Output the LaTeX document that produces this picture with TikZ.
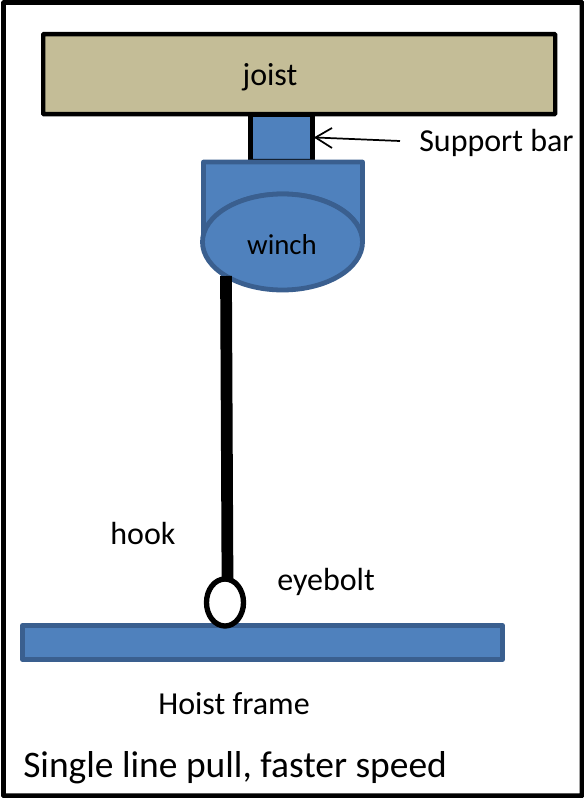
\documentclass[tikz,border=0pt]{standalone}
\usepackage{fontspec}
\setmainfont{Carlito}
\usetikzlibrary{shapes.geometric}
\definecolor{blueA}{HTML}{4F81BD}
\definecolor{blueB}{HTML}{3A5F8F}
\definecolor{joisttan}{HTML}{C4BD97}
\tikzset{
  x=0.75pt,y=-0.75pt,
  blackbox/.style={draw=black,line width=3.2pt,inner sep=0pt,rounded corners=0.5pt},
  bluebox/.style={draw=blueB,fill=blueA,line width=3.6pt,inner sep=0pt,line join=round},
  label/.style={inner sep=0pt,text=black,font=\fontsize{24}{24}\selectfont},
  rope/.style={draw=black,line width=8.8pt},
}
\begin{document}
\begin{tikzpicture}
\useasboundingbox (0,0) rectangle (584,798);
\fill[white] (0,0) rectangle (584,798);
\node[blackbox,line width=3.6pt,anchor=north west,minimum width=434pt,minimum height=595pt] (page) at (1,0) {};
\node[blackbox,line width=3.6pt,fill=blueA,anchor=north west,minimum width=46.5pt,minimum height=35.25pt] (bar) at (248,112) {};
\node[blackbox,fill=joisttan,anchor=north west,minimum width=384pt,minimum height=60pt] (joist) at (41,32) {};
\node[label,anchor=center] at (270,77) {joist};
% winch body
\path[bluebox] (203.5,162) -- (362.5,162) -- (362.5,242) arc[start angle=0,end angle=-180,x radius=79.5,y radius=48] -- cycle;
\node[bluebox,ellipse,minimum width=120pt,minimum height=72pt] (winchface) at (282.5,242) {};
\node[label,font=\fontsize{21.6}{22}\selectfont] (winch) at (282,245) {winch};
% frame and eyebolt
\node[bluebox,anchor=north west,minimum width=360pt,minimum height=25.5pt] (frame) at (20,623) {};
\node[draw=black,fill=white,line width=4pt,ellipse,inner sep=0pt,minimum width=27.75pt,minimum height=35.25pt] (eye) at (225,602.5) {};
\coordinate (ropetop) at (226,276);
\coordinate (ropeend) at (227.5,580);
\draw[rope] (ropetop) -- (ropeend);
% labels
\node[label,anchor=base west] (sup) at (419,152) {Support bar};
\coordinate (tail) at (400,141);
\coordinate (tip) at (315.5,137.5);
\coordinate (barbA) at (332,128);
\coordinate (barbB) at (332,148);
\draw[line width=1.3pt] (tail) -- (tip);
\draw[line width=1.3pt] (barbA) -- (tip) -- (barbB);
\node[label] (hook) at (143,533) {hook};
\node[label] (eyebolt) at (326,582) {eyebolt};
\node[label] (hoist) at (234,704) {Hoist frame};
\node[label,anchor=base west,font=\fontsize{28.1}{28}\selectfont] (title) at (23,777) {Single line pull, faster speed};
\end{tikzpicture}
\end{document}
